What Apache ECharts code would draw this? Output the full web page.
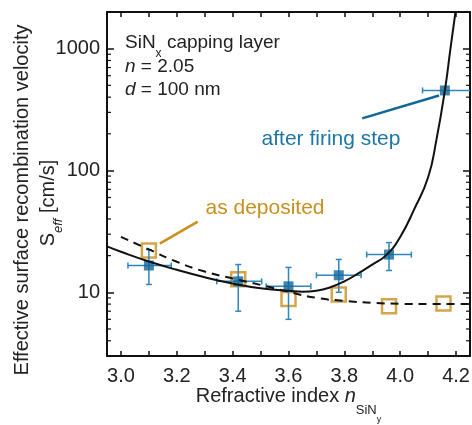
<!DOCTYPE html>
<html>
<head>
<meta charset="utf-8">
<script src="https://cdn.jsdelivr.net/npm/echarts@6/dist/echarts.min.js"></script>
<style>
  html, body { margin: 0; padding: 0; background: #fff; }
  #chart { width: 472px; height: 425px; }
</style>
</head>
<body>
<div id="chart"></div>
<script>
// after firing step (filled squares) with error bars
const firedN = [3.10, 3.42, 3.60, 3.78, 3.96, 4.16]
const firedS = [16.6, 12.3, 11.2, 13.8, 20.4, 454]
const firedNLow = [3.025, 3.343, 3.52, 3.70, 3.88, 4.08]
const firedNHigh = [3.18, 3.504, 3.68, 3.86, 4.04, 4.32]
const firedSLow = [11.6, 7.0, 6.0, 10.0, 15.1, 454]
const firedSHigh = [22.4, 16.9, 16.0, 18.6, 25.6, 454]

// as deposited (open squares)
const depN = [3.10, 3.42, 3.60, 3.78, 3.96, 4.155]
const depS = [22.0, 12.8, 8.8, 9.6, 7.7, 8.1]

// model curves
const fitFiredN = [2.95, 3.0, 3.1, 3.2, 3.3, 3.4, 3.5, 3.6, 3.65, 3.7, 3.75, 3.8, 3.85, 3.9, 3.95, 4.0, 4.05, 4.1, 4.13, 4.16, 4.18, 4.198]
const fitFiredS = [23.8, 21.5, 17.9, 15.3, 13.3, 11.8, 10.8, 10.3, 10.1, 10.3, 11.0, 12.3, 14.3, 16.9, 20.2, 28.5, 48, 88, 180, 454, 1000, 2000]
const fitDepN = [3.0, 3.1, 3.2, 3.3, 3.4, 3.5, 3.6, 3.7, 3.8, 3.9, 4.0, 4.1, 4.2, 4.25]
const fitDepS = [28.5, 22.5, 17.8, 14.8, 13.0, 11.5, 10.1, 9.0, 8.5, 8.2, 8.05, 8.0, 8.0, 8.0]

const xTicks = ['3.0', '3.2', '3.4', '3.6', '3.8', '4.0', '4.2']
const yTicks = ['10', '100', '1000']
const yMinorTicks = [4, 5, 6, 7, 8, 9, 20, 30, 40, 50, 60, 70, 80, 90, 200, 300, 400, 500, 600, 700, 800, 900]

const X_MIN = 2.95
const X_MAX = 4.25
const BLUE = '#10679a'
const BLUE_ERR = '#2f86ba'
const ORANGE = '#c8901e'
const TEXT = '#222'
const FONT = 'Liberation Sans, Arial, sans-serif'

const chart = echarts.init(document.getElementById('chart'))

const renderErr = (params, api) => {
  const x = api.value(0)
  const y = api.value(1)
  const c = api.coord([x, y])
  const l = api.coord([api.value(2), y])
  const r = api.coord([api.value(3), y])
  const t = api.coord([x, api.value(5)])
  const b = api.coord([x, api.value(4)])
  const cap = 3
  const st = { stroke: BLUE_ERR, lineWidth: 1.5 }
  const seg = (x1, y1, x2, y2) => ({ type: 'line', shape: { x1, y1, x2, y2 }, style: st })
  const kids = [seg(l[0], c[1], r[0], c[1]), seg(l[0], c[1] - cap, l[0], c[1] + cap), seg(r[0], c[1] - cap, r[0], c[1] + cap)]
  if (Math.abs(t[1] - b[1]) > 1) {
    kids.push(seg(c[0], t[1], c[0], b[1]), seg(c[0] - cap, t[1], c[0] + cap, t[1]), seg(c[0] - cap, b[1], c[0] + cap, b[1]))
  }
  return { type: 'group', children: kids }
}

// log minor ticks (2..9 per decade) on left and right frame
const renderMinor = (params, api) => {
  const cs = params.coordSys
  const y = api.coord([api.value(0), api.value(1)])[1]
  const st = { stroke: '#111', lineWidth: 1.2 }
  return {
    type: 'group',
    children: [
      { type: 'line', shape: { x1: cs.x, y1: y, x2: cs.x + 4, y2: y }, style: st },
      { type: 'line', shape: { x1: cs.x + cs.width - 4, y1: y, x2: cs.x + cs.width, y2: y }, style: st },
    ],
  }
}

const axisLine = { show: true, lineStyle: { color: '#111', width: 2 } }

const xLabel = (v) => {
  const s = v.toFixed(1)
  return Math.abs(v * 5 - Math.round(v * 5)) < 1e-6 && xTicks.includes(s) ? s : ''
}
const yLabel = (v) => {
  const s = String(Math.round(v))
  return yTicks.includes(s) && Math.abs(v - Math.round(v)) < 1e-6 ? s : ''
}

const option = {
  animation: false,
  grid: { left: 107, right: 2, top: 12, bottom: 69, containLabel: false, outerBoundsMode: 'none' },
  xAxis: [
    {
      type: 'value', min: X_MIN, max: X_MAX, splitNumber: 13,
      axisLine,
      axisTick: { show: true, inside: true, length: 5, lineStyle: { color: '#111', width: 1.5 } },
      axisLabel: { formatter: xLabel, color: TEXT, fontSize: 20, fontFamily: FONT, margin: 10 },
      splitLine: { show: false },
      name: '{a|Refractive index }{i|n}{s|SiN}{ss|y}',
      nameLocation: 'middle', nameGap: 30, nameMoveOverlap: false,
      nameTextStyle: {
        verticalAlign: 'top',
        rich: {
          a: { fontSize: 20, fontFamily: FONT, color: TEXT, lineHeight: 24, verticalAlign: 'top' },
          i: { fontSize: 20, fontFamily: FONT, color: TEXT, fontStyle: 'italic', lineHeight: 24, verticalAlign: 'top' },
          s: { fontSize: 13, fontFamily: FONT, color: TEXT, lineHeight: 13, padding: [18, 0, 0, 0], verticalAlign: 'top' },
          ss: { fontSize: 9, fontFamily: FONT, color: TEXT, lineHeight: 9, padding: [29, 0, 0, 0], verticalAlign: 'top' },
        },
      },
    },
    {
      type: 'value', min: X_MIN, max: X_MAX, splitNumber: 13, position: 'top',
      axisLine,
      axisTick: { show: true, inside: true, length: 5, lineStyle: { color: '#111', width: 1.5 } },
      axisLabel: { show: false },
      splitLine: { show: false },
    },
  ],
  yAxis: [
    {
      type: 'log', logBase: 10, min: 3, max: 2000,
      axisLine,
      axisTick: { show: true, inside: true, length: 7, lineStyle: { color: '#111', width: 1.5 } },
      axisLabel: { formatter: yLabel, color: TEXT, fontSize: 20, fontFamily: FONT, margin: 7 },
      splitLine: { show: false },
    },
    {
      type: 'log', logBase: 10, min: 3, max: 2000, position: 'right',
      axisLine,
      axisTick: { show: true, inside: true, length: 7, lineStyle: { color: '#111', width: 1.5 } },
      axisLabel: { show: false },
      splitLine: { show: false },
    },
  ],
  graphic: [
    {
      type: 'text', x: 22, y: 200, rotation: Math.PI / 2,
      style: { text: 'Effective surface recombination velocity', font: '20px ' + FONT, fill: TEXT, textAlign: 'center', textVerticalAlign: 'middle' },
    },
    {
      type: 'text', x: 50, y: 203, rotation: Math.PI / 2,
      style: {
        text: '{a|S}{s|eff}{a| [cm/s]}', fill: TEXT, textAlign: 'center', textVerticalAlign: 'middle',
        rich: {
          a: { fontSize: 20, fontFamily: FONT, fill: TEXT, lineHeight: 24, verticalAlign: 'top' },
          s: { fontSize: 13, fontFamily: FONT, fill: TEXT, fontStyle: 'italic', lineHeight: 13, padding: [14, 0, 0, 0], verticalAlign: 'top' },
        },
      },
    },
    {
      type: 'text', x: 125, y: 33,
      style: {
        text: '{a|SiN}{s|x}{a| capping layer}', fill: TEXT,
        rich: {
          a: { fontSize: 19, fontFamily: FONT, fill: TEXT, lineHeight: 22, verticalAlign: 'top' },
          s: { fontSize: 12, fontFamily: FONT, fill: TEXT, lineHeight: 12, padding: [15, 0, 0, 0], verticalAlign: 'top' },
        },
      },
    },
    {
      type: 'text', x: 125, y: 57,
      style: {
        text: '{i|n}{a| = 2.05}', fill: TEXT,
        rich: {
          a: { fontSize: 19, fontFamily: FONT, fill: TEXT },
          i: { fontSize: 19, fontFamily: FONT, fill: TEXT, fontStyle: 'italic' },
        },
      },
    },
    {
      type: 'text', x: 125, y: 80,
      style: {
        text: '{i|d}{a| = 100 nm}', fill: TEXT,
        rich: {
          a: { fontSize: 19, fontFamily: FONT, fill: TEXT },
          i: { fontSize: 19, fontFamily: FONT, fill: TEXT, fontStyle: 'italic' },
        },
      },
    },
    {
      type: 'text', x: 331, y: 139,
      style: { text: 'after firing step', font: '21px ' + FONT, fill: '#1e75a6', textAlign: 'center', textVerticalAlign: 'middle' },
    },
    {
      type: 'text', x: 265, y: 208,
      style: { text: 'as deposited', font: '21px ' + FONT, fill: ORANGE, textAlign: 'center', textVerticalAlign: 'middle' },
    },
  ],
  series: [
    {
      name: 'minor ticks',
      type: 'custom',
      renderItem: renderMinor,
      silent: true,
      encode: { x: 0, y: 1 },
      data: yMinorTicks.map((v) => [X_MIN, v]),
      z: 10,
    },
    {
      name: 'as deposited',
      type: 'scatter',
      data: depN.map((n, i) => [n, depS[i]]),
      symbol: 'rect', symbolSize: 14,
      itemStyle: { color: 'rgba(255,255,255,0)', borderColor: ORANGE, borderWidth: 2.5 },
      z: 2,
      markLine: {
        silent: true, symbol: ['none', 'none'], animation: false,
        lineStyle: { color: ORANGE, width: 2.5, type: 'solid' },
        label: { show: false },
        data: [[{ coord: [3.275, 38] }, { coord: [3.139, 25.1] }]],
      },
    },
    {
      name: 'error',
      type: 'custom',
      renderItem: renderErr,
      clip: true,
      encode: { x: [0, 2, 3], y: [1, 4, 5] },
      data: firedN.map((n, i) => [n, firedS[i], firedNLow[i], firedNHigh[i], firedSLow[i], firedSHigh[i]]),
      z: 3,
    },
    {
      name: 'after firing step',
      type: 'scatter',
      data: firedN.map((n, i) => [n, firedS[i]]),
      symbol: 'rect', symbolSize: 10,
      itemStyle: { color: BLUE },
      z: 4,
      markLine: {
        silent: true, symbol: ['none', 'none'], animation: false,
        lineStyle: { color: BLUE, width: 2.5, type: 'solid' },
        label: { show: false },
        data: [[{ coord: [3.864, 268] }, { coord: [4.139, 413] }]],
      },
    },
    {
      name: 'fit deposited',
      type: 'line',
      data: fitDepN.map((n, i) => [n, fitDepS[i]]),
      showSymbol: false, smooth: true,
      lineStyle: { color: '#111', width: 2, type: [8, 6] },
      z: 5,
    },
    {
      name: 'fit fired',
      type: 'line',
      data: fitFiredN.map((n, i) => [n, fitFiredS[i]]),
      showSymbol: false, smooth: true,
      lineStyle: { color: '#111', width: 2 },
      z: 5,
    },
  ],
}

chart.setOption(option)
</script>
</body>
</html>
